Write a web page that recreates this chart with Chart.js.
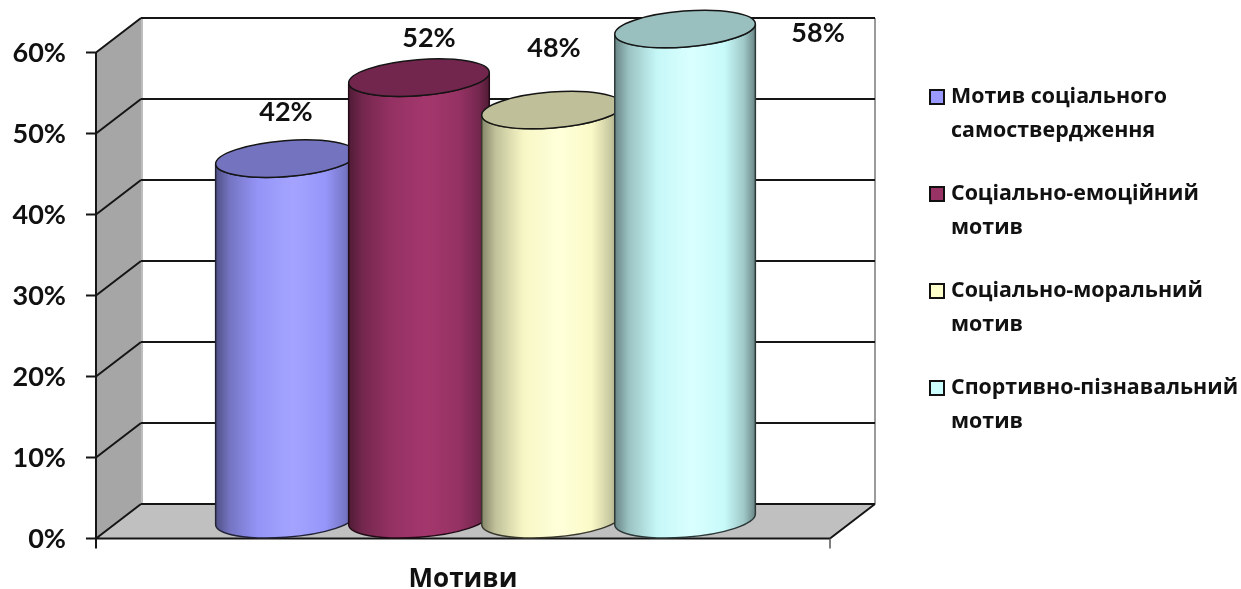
<!DOCTYPE html>
<html>
<head>
<meta charset="utf-8">
<title>Мотиви</title>
<script src="https://cdn.jsdelivr.net/npm/chart.js@4"></script>
<style>
  html, body { margin: 0; padding: 0; background: #fff; }
  canvas { display: block; }
</style>
</head>
<body>
<canvas id="chart" width="1241" height="589"></canvas>
<script>
// Values and captions
const categories = ['Мотиви'];
const seriesNames = [
  ['Мотив соціального', 'самоствердження'],
  ['Соціально-емоційний', 'мотив'],
  ['Соціально-моральний', 'мотив'],
  ['Спортивно-пізнавальний', 'мотив']
];
const seriesValues = [42, 52, 48, 58];
const seriesColors = ['#9999FF', '#993366', '#FFFFCC', '#CCFFFF'];

// Hand-placed value captions, as [dx, dy] from the centre of each cylinder's top
const captionNudges = [[0, -52], [10, -45], [2, -67], [133, -1]];

// Depth of the 3D box: how far the front plane sits from the back wall
const DEPTH_X = 45;
const DEPTH_Y = 34.5;
const TILT = -4.5 * Math.PI / 180;
const RIM_MINOR = 18;

const FONT_NUM = '"Lato", "Open Sans", sans-serif';
const FONT_TEXT = '"Open Sans", "Noto Sans", sans-serif';

function shade(hex, f) {
  const n = parseInt(hex.slice(1), 16);
  const ch = [n >> 16 & 255, n >> 8 & 255, n & 255].map(c => Math.min(255, Math.round(c * f)));
  return `rgb(${ch[0]},${ch[1]},${ch[2]})`;
}

// Gray walls, floor and the diagonal grid lines that join back wall to front plane
const boxPlugin = {
  id: 'box3d',
  beforeDraw(chart) {
    const { ctx, chartArea: a, scales: { y } } = chart;
    const fl = a.left - DEPTH_X, fr = a.right - DEPTH_X, fb = a.bottom + DEPTH_Y;
    const ft = a.top + DEPTH_Y;
    ctx.save();

    ctx.fillStyle = '#A6A6A6';
    ctx.beginPath();
    ctx.moveTo(fl, ft); ctx.lineTo(a.left, a.top); ctx.lineTo(a.left, a.bottom); ctx.lineTo(fl, fb);
    ctx.closePath(); ctx.fill();

    ctx.fillStyle = '#C0C0C0';
    ctx.beginPath();
    ctx.moveTo(fl, fb); ctx.lineTo(a.left, a.bottom); ctx.lineTo(a.right, a.bottom); ctx.lineTo(fr, fb);
    ctx.closePath(); ctx.fill();

    // Pale edges of the back wall
    ctx.strokeStyle = '#BDBDBD'; ctx.lineWidth = 2;
    ctx.beginPath(); ctx.moveTo(a.left + 1, a.top); ctx.lineTo(a.left + 1, a.bottom); ctx.stroke();
    ctx.strokeStyle = '#9A9A9A';
    ctx.beginPath(); ctx.moveTo(a.right, a.top); ctx.lineTo(a.right, a.bottom); ctx.stroke();

    ctx.strokeStyle = '#151515'; ctx.lineWidth = 2;
    ctx.beginPath();
    y.ticks.forEach(t => {
      const py = y.getPixelForValue(t.value);
      ctx.moveTo(a.left, py); ctx.lineTo(fl, py + DEPTH_Y);
      ctx.moveTo(fl, py + DEPTH_Y); ctx.lineTo(fl - 10, py + DEPTH_Y);
    });
    ctx.moveTo(fl, ft); ctx.lineTo(fl, fb + 10);
    ctx.moveTo(fl, fb); ctx.lineTo(fr, fb);
    ctx.moveTo(fr, fb); ctx.lineTo(a.right, a.bottom);
    ctx.stroke();

    ctx.strokeStyle = '#555'; ctx.lineWidth = 1.5;
    ctx.beginPath(); ctx.moveTo(fr, fb); ctx.lineTo(fr, fb + 10); ctx.stroke();
    ctx.restore();
  }
};

function drawCylinder(ctx, bar, color) {
  const cx = bar.x - DEPTH_X / 2;
  const a = bar.width / 2;
  const b = RIM_MINOR;
  const t0 = Math.atan(-(b / a) * Math.tan(TILT));
  const sideDy = a * Math.cos(t0) * Math.sin(TILT) + b * Math.sin(t0) * Math.cos(TILT);
  const sideDx = a * Math.cos(t0) * Math.cos(TILT) - b * Math.sin(t0) * Math.sin(TILT);
  // The left end of the rim reads the value on the back wall
  const topY = bar.y + sideDy;
  const baseY = bar.base + DEPTH_Y / 2 - 1;

  const g = ctx.createLinearGradient(cx - sideDx, 0, cx + sideDx, 0);
  g.addColorStop(0, shade(color, 0.52));
  g.addColorStop(0.1, shade(color, 0.76));
  g.addColorStop(0.3, shade(color, 0.97));
  g.addColorStop(0.55, shade(color, 1.07));
  g.addColorStop(0.78, shade(color, 0.98));
  g.addColorStop(0.92, shade(color, 0.78));
  g.addColorStop(1, shade(color, 0.52));

  ctx.save();
  ctx.beginPath();
  ctx.moveTo(cx - sideDx, topY - sideDy);
  ctx.lineTo(cx - sideDx, baseY - sideDy);
  ctx.ellipse(cx, baseY, a, b, TILT, t0 + Math.PI, t0, true);
  ctx.lineTo(cx + sideDx, topY + sideDy);
  ctx.ellipse(cx, topY, a, b, TILT, t0, t0 + Math.PI, false);
  ctx.closePath();
  ctx.fillStyle = g;
  ctx.fill();
  ctx.strokeStyle = shade(color, 0.22);
  ctx.lineWidth = 1.5;
  ctx.stroke();

  ctx.beginPath();
  ctx.ellipse(cx, topY, a, b, TILT, 0, Math.PI * 2);
  ctx.fillStyle = shade(color, 0.75);
  ctx.fill();
  ctx.strokeStyle = '#151515';
  ctx.stroke();
  ctx.restore();
}

// Bar elements are painted as cylinders standing mid-way through the box depth,
// left to right so that each one overlaps its left-hand neighbour
const cylinderPlugin = {
  id: 'cylinders',
  beforeDatasetsDraw(chart) {
    chart.data.datasets.forEach((ds, i) => {
      chart.getDatasetMeta(i).data.forEach(bar => drawCylinder(chart.ctx, bar, ds.backgroundColor));
    });
  },
  beforeDatasetDraw() {
    return false;
  }
};

// Value captions and the two-line legend on the right
const captionPlugin = {
  id: 'captions',
  afterDatasetsDraw(chart) {
    const { ctx } = chart;
    ctx.save();
    ctx.fillStyle = '#111';
    ctx.textAlign = 'center';
    ctx.textBaseline = 'middle';
    ctx.font = `bold 27px ${FONT_NUM}`;
    chart.data.datasets.forEach((ds, i) => {
      const bar = chart.getDatasetMeta(i).data[0];
      const [dx, dy] = captionNudges[i];
      ctx.fillText(ds.data[0] + '%', bar.x - DEPTH_X / 2 + dx, bar.y + dy);
    });

    ctx.textAlign = 'left';
    ctx.font = `bold 21.4px ${FONT_TEXT}`;
    seriesNames.forEach((lines, i) => {
      const rowY = 97 + i * 97;
      ctx.fillStyle = seriesColors[i];
      ctx.fillRect(930, rowY - 7, 14, 14);
      ctx.strokeStyle = '#111';
      ctx.lineWidth = 2;
      ctx.strokeRect(930, rowY - 7, 14, 14);
      ctx.fillStyle = '#111';
      lines.forEach((line, j) => ctx.fillText(line, 951, rowY + j * 34));
    });
    ctx.restore();
  }
};

new Chart(document.getElementById('chart'), {
  type: 'bar',
  data: {
    labels: categories,
    datasets: seriesNames.map((lines, i) => ({
      label: lines.join(' '),
      data: [seriesValues[i]],
      backgroundColor: seriesColors[i]
    }))
  },
  plugins: [boxPlugin, cylinderPlugin, captionPlugin],
  options: {
    responsive: false,
    animation: false,
    layout: { padding: { top: 18, right: 366, bottom: 0, left: 0 } },
    plugins: { legend: { display: false }, tooltip: { enabled: false } },
    datasets: { bar: { categoryPercentage: 0.725, barPercentage: 1.06 } },
    scales: {
      x: {
        afterFit(scale) {
          scale.height = 85;
          scale.paddingLeft = scale.paddingRight = 0;
        },
        grid: { display: false },
        border: { display: false },
        ticks: {
          color: '#111',
          padding: 52,
          labelOffset: -DEPTH_X,
          font: { family: FONT_TEXT, size: 26, weight: 'bold' }
        }
      },
      y: {
        min: 0,
        max: 60,
        afterFit(scale) {
          scale.width = 141;
          scale.paddingTop = scale.paddingBottom = 0;
        },
        grid: { color: '#151515', lineWidth: 2, drawTicks: false },
        border: { display: false },
        ticks: {
          stepSize: 10,
          color: '#111',
          padding: 75,
          labelOffset: 35,
          font: { family: FONT_NUM, size: 27, weight: 'bold' },
          callback: v => v + '%'
        }
      }
    }
  }
});
</script>
</body>
</html>
